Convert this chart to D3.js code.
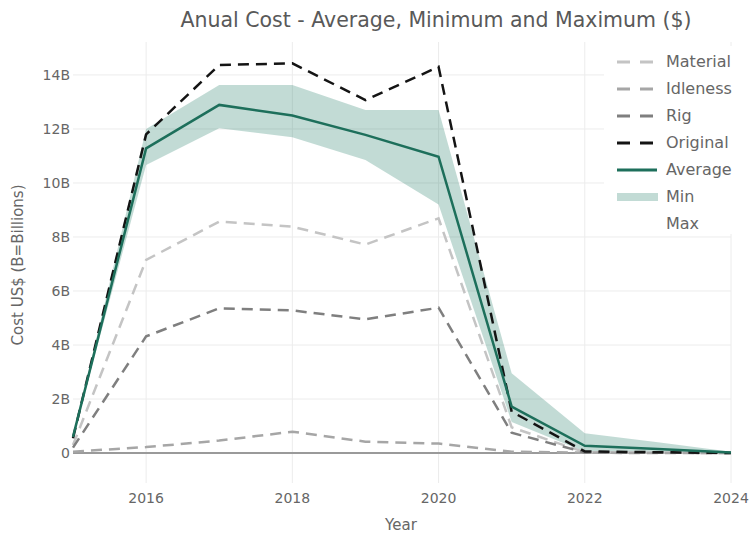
<!DOCTYPE html>
<html>
<head>
<meta charset="utf-8">
<script src="https://cdn.jsdelivr.net/npm/d3@7"></script>
<style>
  body { margin: 0; background: #fff; }
  text { font-family: Verdana, "DejaVu Sans", sans-serif; fill: #666; }
</style>
</head>
<body>
<svg id="chart" width="751" height="533"></svg>
<script>
// --- data (billions of US$) ---
const years = [2015, 2016, 2017, 2018, 2019, 2020, 2021, 2022, 2023, 2024];
const material = [0.3, 7.15, 8.57, 8.38, 7.72, 8.69, 0.95, 0.03, 0.01, 0];
const idleness = [0.05, 0.22, 0.46, 0.79, 0.42, 0.35, 0.05, 0.01, 0, 0];
const rig = [0.2, 4.32, 5.36, 5.28, 4.95, 5.38, 0.75, 0.02, 0.01, 0];
const original = [0.55, 11.8, 14.37, 14.43, 13.07, 14.3, 1.53, 0.06, 0.03, 0];
const average = [0.6, 11.28, 12.89, 12.5, 11.78, 10.97, 1.72, 0.27, 0.15, 0.02];
const minCost = [0.6, 10.67, 12.03, 11.69, 10.85, 9.2, 1.15, 0.05, 0.02, 0];
const maxCost = [0.6, 12.0, 13.63, 13.63, 12.7, 12.7, 2.95, 0.73, 0.4, 0.05];
const yTicks = [0, 2, 4, 6, 8, 10, 12, 14];
const xTicks = [2016, 2018, 2020, 2022, 2024];

const dashSeries = [
  { name: "Material", values: material, color: "#c4c4c4" },
  { name: "Idleness", values: idleness, color: "#a6a6a6" },
  { name: "Rig", values: rig, color: "#7f7f7f" },
  { name: "Original", values: original, color: "#141414" }
];
const green = "#1d6f5b";
const bandColor = "#1d7a62";

const svg = d3.select("#chart");
const plot = { left: 73, right: 731, top: 42, bottom: 483 };

const x = d3.scaleLinear().domain([2015, 2024]).range([plot.left, plot.right]);
const y = d3.scaleLinear().domain([-1.11, 15.22]).range([plot.bottom, plot.top]);

// grid
svg.append("g").selectAll("line")
  .data(xTicks)
  .enter().append("line")
  .attr("x1", d => x(d)).attr("x2", d => x(d))
  .attr("y1", plot.top).attr("y2", plot.bottom)
  .attr("stroke", "#ececec").attr("stroke-width", 1);

svg.append("g").selectAll("line")
  .data(yTicks.filter(d => d > 0))
  .enter().append("line")
  .attr("x1", plot.left).attr("x2", plot.right)
  .attr("y1", d => y(d)).attr("y2", d => y(d))
  .attr("stroke", "#ececec").attr("stroke-width", 1);

// zero line
svg.append("line")
  .attr("x1", plot.left).attr("x2", plot.right)
  .attr("y1", y(0)).attr("y2", y(0))
  .attr("stroke", "#9a9a9a").attr("stroke-width", 2);

// min / max band
const band = d3.area()
  .x((d, i) => x(years[i]))
  .y0((d, i) => y(minCost[i]))
  .y1((d, i) => y(maxCost[i]));

svg.append("path")
  .datum(years)
  .attr("d", band)
  .attr("fill", bandColor)
  .attr("fill-opacity", 0.27);

const line = d3.line().x((d, i) => x(years[i])).y(d => y(d));

dashSeries.forEach(s => {
  svg.append("path")
    .datum(s.values)
    .attr("d", line)
    .attr("fill", "none")
    .attr("stroke", s.color)
    .attr("stroke-width", 2.5)
    .attr("stroke-dasharray", "11,7");
});

svg.append("path")
  .datum(average)
  .attr("d", line)
  .attr("fill", "none")
  .attr("stroke", green)
  .attr("stroke-width", 2.5);

// axes labels
svg.append("g").selectAll("text")
  .data(yTicks)
  .enter().append("text")
  .attr("x", 70)
  .attr("y", d => y(d) + 5)
  .attr("text-anchor", "end")
  .style("font-size", "14px")
  .text(d => d === 0 ? "0" : d + "B");

svg.append("g").selectAll("text")
  .data(xTicks)
  .enter().append("text")
  .attr("x", d => x(d))
  .attr("y", 503)
  .attr("text-anchor", "middle")
  .style("font-size", "14px")
  .text(d => d);

svg.append("text")
  .attr("x", 401).attr("y", 530)
  .attr("text-anchor", "middle")
  .style("font-size", "15px")
  .text("Year");

svg.append("text")
  .attr("transform", "translate(23,265) rotate(-90)")
  .attr("text-anchor", "middle")
  .style("font-size", "15px")
  .text("Cost US$ (B=Billions)");

svg.append("text")
  .attr("x", 436).attr("y", 27)
  .attr("text-anchor", "middle")
  .style("font-size", "20.5px")
  .style("fill", "#595959")
  .text("Anual Cost - Average, Minimum and Maximum ($)");

// legend
const legend = svg.append("g").attr("transform", "translate(604,46)");
legend.append("rect")
  .attr("x", 0).attr("y", 0).attr("width", 135).attr("height", 188)
  .attr("fill", "#fff");

const legendItems = dashSeries.map(s => ({ name: s.name, type: "dash", color: s.color }))
  .concat([
    { name: "Average", type: "line", color: green },
    { name: "Min", type: "band", color: bandColor },
    { name: "Max", type: "none" }
  ]);

const item = legend.selectAll("g")
  .data(legendItems)
  .enter().append("g")
  .attr("transform", (d, i) => `translate(0,${16 + i * 27})`);

item.filter(d => d.type === "dash").append("line")
  .attr("x1", 13).attr("x2", 53).attr("y1", 0).attr("y2", 0)
  .attr("stroke", d => d.color).attr("stroke-width", 3)
  .attr("stroke-dasharray", "13,10");

item.filter(d => d.type === "line").append("line")
  .attr("x1", 13).attr("x2", 53).attr("y1", 0).attr("y2", 0)
  .attr("stroke", d => d.color).attr("stroke-width", 3);

item.filter(d => d.type === "band").append("rect")
  .attr("x", 13).attr("y", -4).attr("width", 41).attr("height", 8)
  .attr("fill", d => d.color).attr("fill-opacity", 0.27);

item.append("text")
  .attr("x", 62).attr("y", 5)
  .style("font-size", "16px")
  .text(d => d.name);
</script>
</body>
</html>
